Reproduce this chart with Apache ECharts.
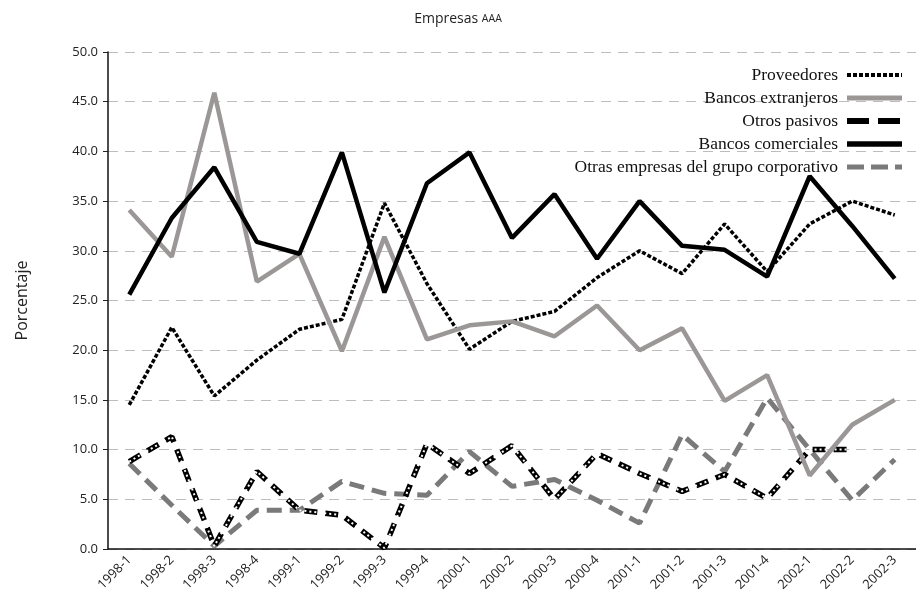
<!DOCTYPE html>
<html>
<head>
<meta charset="utf-8">
<script src="https://cdn.jsdelivr.net/npm/echarts@6/dist/echarts.min.js"></script>
<style>
  html, body { margin: 0; padding: 0; background: #fff; }
  #chart { width: 916px; height: 601px; }
</style>
</head>
<body>
<div id="chart"></div>
<script>
// categorias (trimestres)
const periodos = [
  "1998-1", "1998-2", "1998-3", "1998-4", "1999-1", "1999-2", "1999-3",
  "1999-4", "2000-1", "2000-2", "2000-3", "2000-4", "2001-1", "2001-2",
  "2001-3", "2001-4", "2002-1", "2002-2", "2002-3",
];
const proveedores = [14.5, 22.3, 15.4, 19.0, 22.1, 23.1, 34.8, 26.7, 20.1, 22.9, 23.9, 27.3, 30.0, 27.7, 32.7, 27.9, 32.7, 35.0, 33.6];
const bancosExtranjeros = [34.1, 29.4, 45.9, 26.9, 29.7, 19.9, 31.4, 21.1, 22.5, 22.9, 21.4, 24.5, 20.0, 22.2, 14.9, 17.5, 7.4, 12.5, 15.0];
const otrosPasivos = [8.8, 11.3, 0.3, 7.8, 3.9, 3.4, 0.1, 10.6, 7.6, 10.4, 5.0, 9.6, 7.6, 5.8, 7.5, 5.1, 10.0, 10.0, null];
const bancosComerciales = [25.6, 33.3, 38.4, 30.9, 29.7, 39.9, 25.8, 36.8, 39.9, 31.3, 35.7, 29.2, 35.0, 30.5, 30.1, 27.4, 37.5, 32.5, 27.2];
const otrasEmpresas = [8.6, 4.4, 0.3, 3.9, 3.9, 6.8, 5.6, 5.4, 9.8, 6.3, 7.0, 4.9, 2.6, 11.5, 7.8, 15.2, 10.0, 4.9, 9.0];
const yTicks = { min: 0, max: 50, interval: 5 };

const chart = echarts.init(document.getElementById("chart"));
const sans = "Open Sans";

chart.setOption({
  animation: false,
  title: {
    text: "Empresas {s|AAA}",
    left: "center",
    top: 7,
    textStyle: {
      fontFamily: sans,
      fontWeight: "normal",
      fontSize: 14,
      color: "#222",
      rich: { s: { fontFamily: sans, fontSize: 10.5, color: "#222" } },
    },
  },
  legend: {
    orient: "vertical",
    right: 6,
    top: 61,
    align: "right",
    itemWidth: 55,
    itemHeight: 6,
    itemGap: 5,
    itemStyle: { opacity: 0 },
    data: [
      { name: "Proveedores", lineStyle: { width: 4, type: [4, 2] } },
      { name: "Bancos extranjeros", lineStyle: { width: 5 } },
      { name: "Otros pasivos", lineStyle: { width: 6, type: [22, 9] } },
      { name: "Bancos comerciales", lineStyle: { width: 5.5 } },
      { name: "Otras empresas del grupo corporativo", lineStyle: { width: 5, type: [17, 7] } },
    ],
    textStyle: {
      fontFamily: "Liberation Serif",
      fontSize: 17.5,
      lineHeight: 17,
      color: "#111",
      padding: [0, 4, 0, 0],
    },
  },
  grid: { left: 108, right: 0, top: 52, bottom: 52 },
  xAxis: [
    {
      type: "category",
      data: periodos,
      axisLine: { lineStyle: { color: "#111", width: 1.5 } },
      axisTick: { length: 8, lineStyle: { color: "#222" } },
      axisLabel: { rotate: 45, fontFamily: sans, fontSize: 13, color: "#222", margin: 9 },
    },
    {
      type: "category",
      data: periodos,
      position: "bottom",
      axisLine: { show: false },
      axisTick: { inside: true, length: 7, lineStyle: { color: "#222" } },
      axisLabel: { show: false },
    },
  ],
  yAxis: {
    type: "value",
    min: yTicks.min,
    max: yTicks.max,
    interval: yTicks.interval,
    name: "Porcentaje",
    nameLocation: "middle",
    nameGap: 78,
    nameTextStyle: { fontFamily: sans, fontSize: 16, color: "#222" },
    axisLine: { show: true, lineStyle: { color: "#111", width: 1.5 } },
    axisTick: { show: true, length: 5, lineStyle: { color: "#222" } },
    axisLabel: {
      fontFamily: sans,
      fontSize: 13,
      color: "#222",
      margin: 10,
      formatter: (v) => v.toFixed(1),
    },
    splitLine: {
      lineStyle: { color: "#bdbdbd", width: 1, type: [10, 7] },
    },
  },
  series: [
    {
      name: "Otras empresas del grupo corporativo",
      type: "line",
      data: otrasEmpresas,
      symbol: "none",
      lineStyle: { color: "#7a7a7a", width: 5, type: [15, 8] },
      itemStyle: { color: "#7a7a7a" },
    },
    {
      name: "Otros pasivos",
      type: "line",
      data: otrosPasivos,
      symbol: "none",
      lineStyle: { color: "#000", width: 5.5, type: [13, 8] },
      itemStyle: { color: "#000" },
    },
    {
      // puntos blancos dentro de "Otros pasivos"
      name: "Otros pasivos (puntos)",
      type: "line",
      data: otrosPasivos,
      symbol: "none",
      silent: true,
      lineStyle: { color: "#fff", width: 2, type: [2, 3] },
      itemStyle: { color: "#fff" },
    },
    {
      name: "Proveedores",
      type: "line",
      data: proveedores,
      symbol: "none",
      lineStyle: { color: "#000", width: 3.5, type: [4, 2] },
      itemStyle: { color: "#000" },
    },
    {
      name: "Bancos extranjeros",
      type: "line",
      data: bancosExtranjeros,
      symbol: "none",
      lineStyle: { color: "#9b9797", width: 4.5 },
      itemStyle: { color: "#9b9797" },
    },
    {
      name: "Bancos comerciales",
      type: "line",
      data: bancosComerciales,
      symbol: "none",
      lineStyle: { color: "#000", width: 4.5 },
      itemStyle: { color: "#000" },
    },
  ],
});
</script>
</body>
</html>
